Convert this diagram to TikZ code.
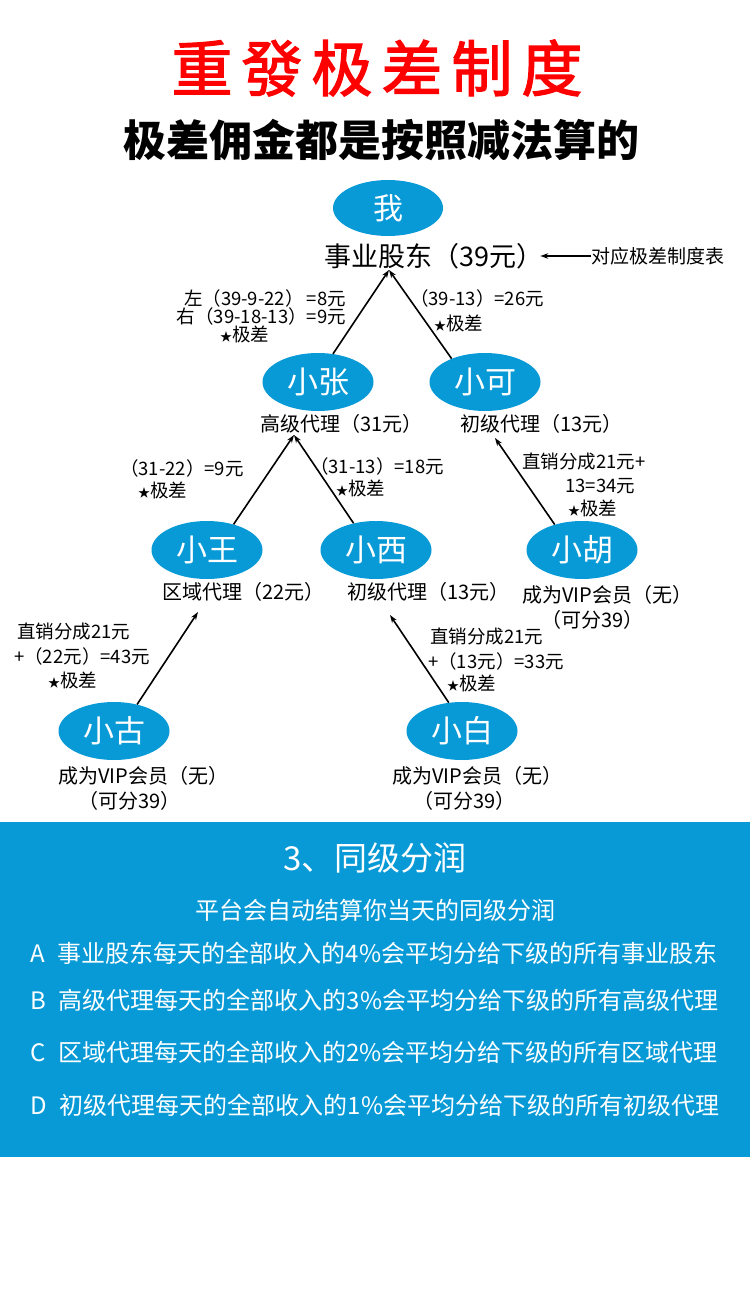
\documentclass[tikz,border=0pt]{standalone}
\usepackage{fontspec}
\setmainfont{Noto Sans CJK SC}
\usetikzlibrary{shapes.geometric,arrows.meta}
\definecolor{mblue}{RGB}{7,154,214}
\definecolor{tred}{RGB}{255,0,0}
\newcommand\setfs[1]{\fontsize{#1}{#1}\selectfont}
\newcommand\tstar{{\setfs{12}★}}
\begin{document}
\begin{tikzpicture}[x=1pt,y=-1pt,
  person/.style={ellipse,fill=mblue,minimum width=111pt,minimum height=58pt,inner sep=0pt,text=white,font=\setfs{31}},
  rolelbl/.style={inner sep=0pt,font=\setfs{20},anchor=west},
  notelbl/.style={inner sep=0pt,font=\setfs{18.5},anchor=west},
  arr/.style={draw=black,line width=1.6pt,-{Stealth[length=8pt,width=5.5pt]}},
]
\useasboundingbox (0,0) rectangle (750,1300);
\fill[white] (0,0) rectangle (750,1300);

% titles
\node[inner sep=0pt,text=tred,font=\setfs{61}\addfontfeature{FakeBold=2}] (title) at (377,68)
  {重\hspace{9pt}發\hspace{9pt}极\hspace{9pt}差\hspace{9pt}制\hspace{9pt}度};
\node[inner sep=0pt,font=\setfs{43}\bfseries] (subtitle) at (381,140) {极差佣金都是按照减法算的};

% people
\node[person,minimum width=110pt,minimum height=56pt,font=\setfs{30}] (me) at (388,208) {我};
\node[person] (zhang) at (318,382) {小张};
\node[person] (ke) at (485,382) {小可};
\node[person] (wang) at (207,550) {小王};
\node[person] (xi) at (376,550) {小西};
\node[person] (hu) at (582,550) {小胡};
\node[person] (gu) at (114,731) {小古};
\node[person] (bai) at (462,731) {小白};

% role labels
\node[inner sep=0pt,font=\setfs{27},anchor=west] (sh) at (324,256) {事业股东（39元）};
\node[inner sep=0pt,font=\setfs{19},anchor=west] (tbl) at (591,256) {对应极差制度表};
\node[rolelbl] (zhangL) at (260,424) {高级代理（31元）};
\node[rolelbl] (keL) at (460,424) {初级代理（13元）};
\node[rolelbl] (wangL) at (162,592) {区域代理（22元）};
\node[rolelbl] (xiL) at (347,592) {初级代理（13元）};
\node[rolelbl] (huL) at (522,595) {成为VIP会员（无）};
\node[rolelbl] (huL2) at (541,620) {（可分39）};
\node[rolelbl] (guL) at (58,776) {成为VIP会员（无）};
\node[rolelbl] (guL2) at (78,801) {（可分39）};
\node[rolelbl] (baiL) at (392,776) {成为VIP会员（无）};
\node[rolelbl] (baiL2) at (413,801) {（可分39）};

% notes
\node[notelbl,anchor=east] (n1a) at (346,298) {左（39-9-22）\,=8元};
\node[notelbl,anchor=east] (n1b) at (346,316) {右（39-18-13）=9元};
\node[notelbl] (n1c) at (220,334) {\tstar 极差};
\node[notelbl] (n2a) at (410,298) {（39-13）=26元};
\node[notelbl] (n2b) at (434,323) {\tstar 极差};
\node[notelbl] (n3a) at (120,468) {（31-22）=9元};
\node[notelbl] (n3b) at (138,490) {\tstar 极差};
\node[notelbl] (n4a) at (310,466) {（31-13）=18元};
\node[notelbl] (n4b) at (336,488) {\tstar 极差};
\node[notelbl] (n5a) at (522,462) {直销分成21元+};
\node[notelbl] (n5b) at (565,486) {13=34元};
\node[notelbl] (n5c) at (568,508) {\tstar 极差};
\node[notelbl] (n6a) at (17,632) {直销分成21元};
\node[notelbl] (n6b) at (14,656) {+（22元）=43元};
\node[notelbl] (n6c) at (48,680) {\tstar 极差};
\node[notelbl] (n7a) at (430,637) {直销分成21元};
\node[notelbl] (n7b) at (428,661) {+（13元）=33元};
\node[notelbl] (n7c) at (447,683) {\tstar 极差};

% arrow targets
\coordinate (tipSh) at (389,270);
\coordinate (tipZhang) at (294,435);
\coordinate (tipKe) at (495,438);
\coordinate (tipWang) at (198,612);
\coordinate (tipXi) at (390,615);

% connectors
\draw[arr] (tbl.west) -- ([xshift=-3pt]sh.east);
\draw[arr] (zhang.62) -- (tipSh);
\draw[arr] (ke.145) -- (tipSh);
\draw[arr] (wang.44) -- (tipZhang);
\draw[arr] (xi.130) -- (tipZhang);
\draw[arr] (hu.137) -- (tipKe);
\draw[arr] (gu.49) -- (tipWang);
\draw[arr] (bai.115) -- (tipXi);

% blue panel
\fill[mblue] (0,822) rectangle (750,1157);
\node[inner sep=0pt,text=white,font=\setfs{33}] (ptitle) at (375,858) {3、同级分润};
\node[inner sep=0pt,text=white,font=\setfs{24}] (psub) at (375,910) {平台会自动结算你当天的同级分润};
\node[inner sep=0pt,text=white,font=\setfs{24},anchor=west] (la) at (30,953) {A\hspace{13pt}事业股东每天的全部收入的4\%会平均分给下级的所有事业股东};
\node[inner sep=0pt,text=white,font=\setfs{24},anchor=west] (lb) at (30,1000) {B\hspace{13pt}高级代理每天的全部收入的3\%会平均分给下级的所有高级代理};
\node[inner sep=0pt,text=white,font=\setfs{24},anchor=west] (lc) at (30,1052) {C\hspace{13pt}区域代理每天的全部收入的2\%会平均分给下级的所有区域代理};
\node[inner sep=0pt,text=white,font=\setfs{24},anchor=west] (ld) at (30,1105) {D\hspace{13pt}初级代理每天的全部收入的1\%会平均分给下级的所有初级代理};
\end{tikzpicture}
\end{document}
